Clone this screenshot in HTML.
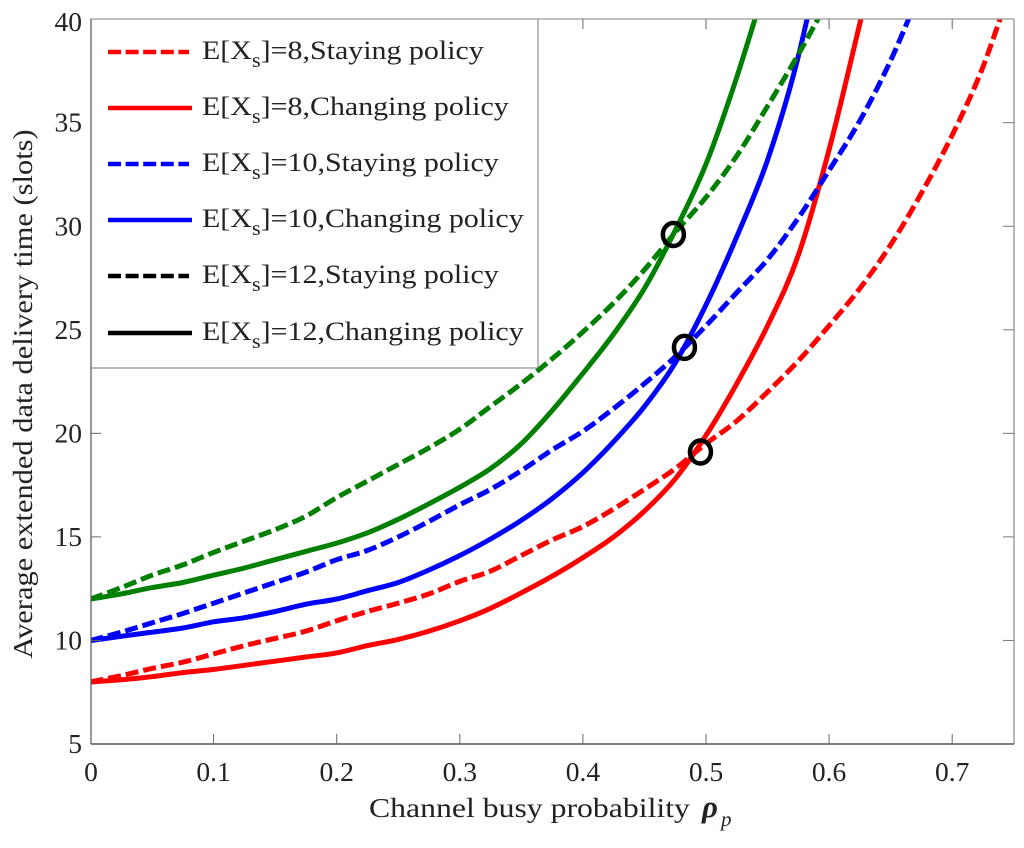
<!DOCTYPE html>
<html>
<head>
<meta charset="utf-8">
<title>Average extended data delivery time</title>
<style>
html,body{margin:0;padding:0;background:#fff;}
svg{display:block;}
text{font-family:"Liberation Serif","DejaVu Serif",serif;fill:#222;}
</style>
</head>
<body>
<svg id="chart" xmlns="http://www.w3.org/2000/svg" width="1024" height="848" viewBox="0 0 1024 848"></svg>
<script>
var rhoValues = [0,0.025,0.05,0.075,0.1,0.125,0.15,0.175,0.2,0.225,0.25,0.275,0.3,0.325,0.35,0.375,0.4,0.425,0.45,0.475,0.5,0.525,0.55,0.575,0.6,0.625,0.65,0.675,0.7,0.725,0.75];
var redStaying = [8,8.3,8.65,8.95,9.35,9.75,10.1,10.45,10.95,11.4,11.8,12.25,12.85,13.35,14.1,14.85,15.5,16.35,17.3,18.3,19.5,20.6,22,23.5,25.2,27,29.1,31.6,34.4,37.7,42];
var redChanging = [8,8.1,8.25,8.45,8.6,8.8,9,9.2,9.4,9.75,10.05,10.45,10.95,11.55,12.3,13.1,14,15,16.25,17.8,19.9,22.4,25.2,28.6,33.7,39.8,46];
var blueStaying = [10,10.4,10.85,11.3,11.8,12.3,12.8,13.3,13.9,14.35,15,15.75,16.55,17.3,18.2,19.2,20.1,21.2,22.4,23.7,25.2,26.8,28.4,30.4,32.7,35.1,38,41.5];
var blueChanging = [10,10.2,10.4,10.6,10.9,11.1,11.4,11.75,12,12.4,12.8,13.4,14.1,14.9,15.8,16.85,18.1,19.6,21.3,23.4,26.2,29.5,33.2,38.2,45];
var greenStaying = [12,12.55,13.15,13.65,14.25,14.8,15.35,16,16.9,17.7,18.5,19.3,20.2,21.3,22.4,23.6,24.9,26.3,27.9,29.7,31.4,33.4,35.8,38.3,41];
var greenChanging = [12,12.25,12.55,12.8,13.15,13.5,13.9,14.3,14.7,15.2,15.85,16.6,17.4,18.3,19.5,21.1,22.9,24.8,27,29.8,33,37.2,42];
var markerRho = [0.4955,0.4825,0.4735];
var markerDelay = [19.1,24.15,29.6];
var xTickValues = [0,0.1,0.2,0.3,0.4,0.5,0.6,0.7];
var xTickLabels = ["0","0.1","0.2","0.3","0.4","0.5","0.6","0.7"];
var yTickValues = [5,10,15,20,25,30,35,40];
var yTickLabels = ["5","10","15","20","25","30","35","40"];
var legendLabels = ["=8,Staying policy","=8,Changing policy","=10,Staying policy","=10,Changing policy","=12,Staying policy","=12,Changing policy"];

var NS = "http://www.w3.org/2000/svg";
var svg = document.getElementById("chart");
var L = 91, R = 1014, T = 19, B = 744;
function xScale(v){ return 90.5 + 1231 * v; }
function yScale(v){ return 744 - (v - 5) * 20.71; }
function make(tag, attrs, parent){
  var el = document.createElementNS(NS, tag);
  for (var k in attrs) el.setAttribute(k, attrs[k]);
  (parent || svg).appendChild(el);
  return el;
}
function smoothPath(p){
  var d = "M" + p[0][0].toFixed(1) + " " + p[0][1].toFixed(1);
  for (var i = 0; i < p.length - 1; i++) {
    var a = p[Math.max(i-1,0)], b = p[i], c = p[i+1], e = p[Math.min(i+2,p.length-1)];
    var c1x = b[0] + (c[0]-a[0])/6, c1y = b[1] + (c[1]-a[1])/6;
    var c2x = c[0] - (e[0]-b[0])/6, c2y = c[1] - (e[1]-b[1])/6;
    d += "C" + c1x.toFixed(1) + " " + c1y.toFixed(1) + " " + c2x.toFixed(1) + " " + c2y.toFixed(1) + " " + c[0].toFixed(1) + " " + c[1].toFixed(1);
  }
  return d;
}
var defs = make("defs", {});
var clip = make("clipPath", {id:"plot-clip"}, defs);
make("rect", {x:L, y:T, width:R-L, height:B-T}, clip);

var seriesList = [
  {name:"red-staying-curve", v:redStaying, c:"#ff0000", d:true},
  {name:"red-changing-curve", v:redChanging, c:"#ff0000", d:false},
  {name:"blue-staying-curve", v:blueStaying, c:"#0000ff", d:true},
  {name:"blue-changing-curve", v:blueChanging, c:"#0000ff", d:false},
  {name:"green-staying-curve", v:greenStaying, c:"#008000", d:true},
  {name:"green-changing-curve", v:greenChanging, c:"#008000", d:false}
];
seriesList.forEach(function(s){
  var pts = s.v.map(function(val, i){ return [xScale(rhoValues[i]), yScale(val)]; });
  var line = make("path", {d:smoothPath(pts), fill:"none", stroke:s.c, "stroke-width":5, "stroke-linejoin":"round", "clip-path":"url(#plot-clip)"});
  
  
  if (s.d) line.setAttribute("stroke-dasharray", "13 5");
});

markerRho.forEach(function(r, i){
  var c = make("ellipse", {cx:xScale(r), cy:yScale(markerDelay[i]), rx:10.5, ry:11.5, fill:"none", stroke:"#000", "stroke-width":4.5});
  
  
});

// legend box
var legendBox = make("rect", {x:L, y:T, width:447, height:349, fill:"#fff", stroke:"#777", "stroke-width":1});


var legendColors = ["#ff0000","#ff0000","#0000ff","#0000ff","#000000","#000000"];
var legendRowY = [52,108,164,220,276,333];
legendLabels.forEach(function(label, i){
  var g = make("g", {});
  
  
  var sw = make("line", {x1:108, x2:i%2===0?189:192, y1:legendRowY[i], y2:legendRowY[i], stroke:legendColors[i], "stroke-width":4.6}, g);
  
  
  if (i%2===0) sw.setAttribute("stroke-dasharray", "13 4.6");
  var t = make("text", {"font-size":26.5, transform:"translate(202," + (legendRowY[i]+7) + ") scale(1.13,1)"}, g);
  
  
  t.appendChild(document.createTextNode("E[X"));
  var sub = make("tspan", {dy:8, "font-size":20}, t);
  sub.textContent = "s";
  var rest = make("tspan", {dy:-8}, t);
  rest.textContent = "]" + label;
});

// frame
var topLine = make("line", {x1:L, x2:R, y1:T, y2:T, stroke:"#999", "stroke-width":1.2});


var rightLine = make("line", {x1:R, x2:R, y1:T, y2:B, stroke:"#999", "stroke-width":1.4});


var leftLine = make("line", {x1:L, x2:L, y1:T, y2:B, stroke:"#555", "stroke-width":1.2});


var bottomLine = make("line", {x1:L, x2:R, y1:B, y2:B, stroke:"#555", "stroke-width":1.4});



// x ticks
xTickValues.forEach(function(v, i){
  var x = v === 0 ? L : xScale(v);
  if (v !== 0) {
    var t1 = make("line", {x1:x, x2:x, y1:B, y2:B-10, stroke:"#666", "stroke-width":1});
    
    
    if (x > 538) {
      var t2 = make("line", {x1:x, x2:x, y1:T, y2:T+10, stroke:"#666", "stroke-width":1});
      
      
    }
  }
  var lb = make("text", {x:x, y:781, "font-size":27.5, "text-anchor":"middle"});
  
  
  lb.textContent = xTickLabels[i];
});
// y ticks
yTickValues.forEach(function(v, i){
  var y = yScale(v);
  if (v !== 5 && v !== 40) {
    if (y > 368) {
      var t1 = make("line", {x1:L, x2:L+10, y1:y, y2:y, stroke:"#666", "stroke-width":1});
      
      
    }
    var t2 = make("line", {x1:R, x2:R-11, y1:y, y2:y, stroke:"#777", "stroke-width":1});
    
    
  }
  var lb = make("text", {x:82, y:Math.max(y + 9, 31), "font-size":27.5, "text-anchor":"end"});
  
  
  lb.textContent = yTickLabels[i];
});

// titles
var xt = make("text", {"font-size":27.5, transform:"translate(369,817) scale(1.155,1)"});


xt.textContent = "Channel busy probability";
var rho = make("text", {x:702, y:817, "font-style":"italic", "font-weight":"bold", "font-size":31});


rho.textContent = "ρ";
var rhoSub = make("text", {x:721, y:826, "font-style":"italic", "font-size":21});


rhoSub.textContent = "p";

var yt = make("text", {x:0, y:0, "font-size":27.5, "text-anchor":"middle", transform:"translate(32,394) rotate(-90) scale(1.107,1)"});


yt.textContent = "Average extended data delivery time (slots)";
</script>
</body>
</html>
